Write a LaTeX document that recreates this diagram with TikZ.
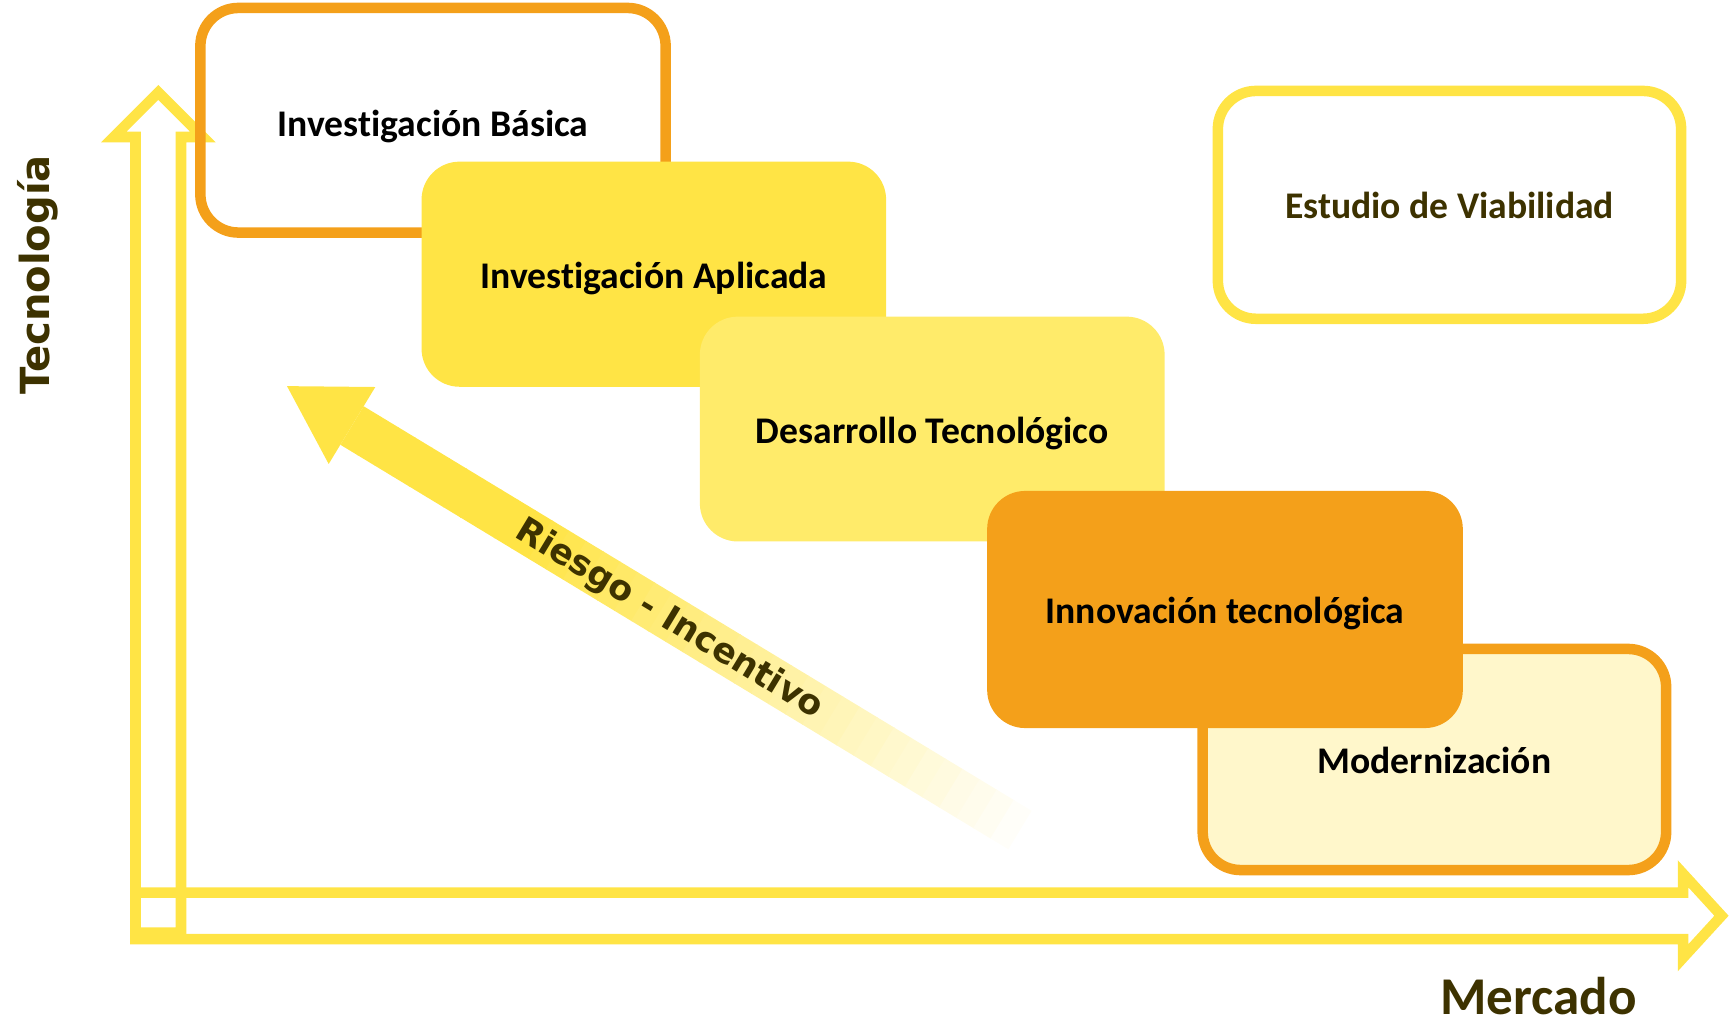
\documentclass[tikz,border=0pt]{standalone}
\usepackage{fontspec}
\setmainfont{Carlito}[Ligatures=NoCommon]
\newfontfamily\verdanaface{DejaVu Sans}
\definecolor{stageOrange}{HTML}{F4A01A}
\definecolor{stageYellow}{HTML}{FFE445}
\definecolor{stageLight}{HTML}{FFEB6A}
\definecolor{stagePale}{HTML}{FFF7CB}
\definecolor{labelOlive}{HTML}{3D3200}
\begin{document}
\begin{tikzpicture}
[x=0.01cm,y=-0.01cm,
  stageFilled/.style={shape=rectangle,rounded corners=0.38cm,inner sep=0pt,%
    text height=0.8em,text depth=0pt,font=\bfseries\fontsize{10.7}{12}\selectfont},
  stageOutline/.style={stageFilled,line width=0.105cm},
  axisDecorate/.style={draw=stageYellow,line width=0.105cm},
  labelDecorate/.style={text=labelOlive,inner sep=0pt}]
\useasboundingbox (0,0) rectangle (1729,1024);
%% axes
\draw[axisDecorate] (135.5,932.5) -- (135.5,137) -- (113.7,137) -- (158.3,92.4)
  -- (202.9,137) -- (181,137) -- (181,932.5) -- cycle;
\draw[axisDecorate] (135.5,892.5) -- (1683,892.5) -- (1683,873.7) -- (1721.5,915.75)
  -- (1683,957.8) -- (1683,939) -- (135.5,939) -- cycle;
%% stages
\node (basica) at (433,120.25) [stageOutline,draw=stageOrange,text height=0.9em,
  minimum width=4.65cm,minimum height=2.245cm] {Investigación Básica};
\node (aplicada) at (653.85,274.2) [stageFilled,fill=stageYellow,
  minimum width=4.643cm,minimum height=2.25cm] {Investigación Aplicada};
\node (desarrollo) at (932.25,429.05) [stageFilled,fill=stageLight,
  minimum width=4.645cm,minimum height=2.247cm] {Desarrollo Tecnológico};
\node (modernizacion) at (1434.4,759.5) [stageOutline,draw=stageOrange,fill=stagePale,
  minimum width=4.632cm,minimum height=2.21cm] {Modernización};
\node (innovacion) at (1225,609.5) [stageFilled,fill=stageOrange,
  minimum width=4.754cm,minimum height=2.37cm] {Innovación tecnológica};
\node (estudio) at (1449.5,204.85) [stageOutline,draw=stageYellow,fill=white,text=labelOlive,
  minimum width=4.63cm,minimum height=2.277cm] {Estudio de Viabilidad};
%% risk arrow, fading out
\coordinate (riskBase) at (352,425.5);
\begin{scope}[shift={(riskBase)},rotate=-31.2]
\foreach \s in {0,20,...,760}
{
  \pgfmathtruncatemacro{\p}{min(100,max(0,(781-\s)/5.81))}
  \fill[stageYellow!\p!white] (\s,-22.5) rectangle (\s+21,22.5);
}
\fill[stageYellow] (-76,0) -- (0,-45) -- (0,45) -- cycle;
\node (riesgo) at (372,2) [labelDecorate,rotate=-31.2,
  font=\verdanaface\bfseries\fontsize{9.9}{12}\selectfont] {Riesgo - Incentivo};
\end{scope}
%% axis labels
\node (tecnologia) at (50,275) [labelDecorate,rotate=90,anchor=base,
  font=\verdanaface\bfseries\fontsize{11.4}{13}\selectfont] {Tecnología};
\node (mercado) at (1538.6,1014) [labelDecorate,anchor=base,
  font=\bfseries\fontsize{15.1}{18}\selectfont] {Mercado};
\end{tikzpicture}
\end{document}
